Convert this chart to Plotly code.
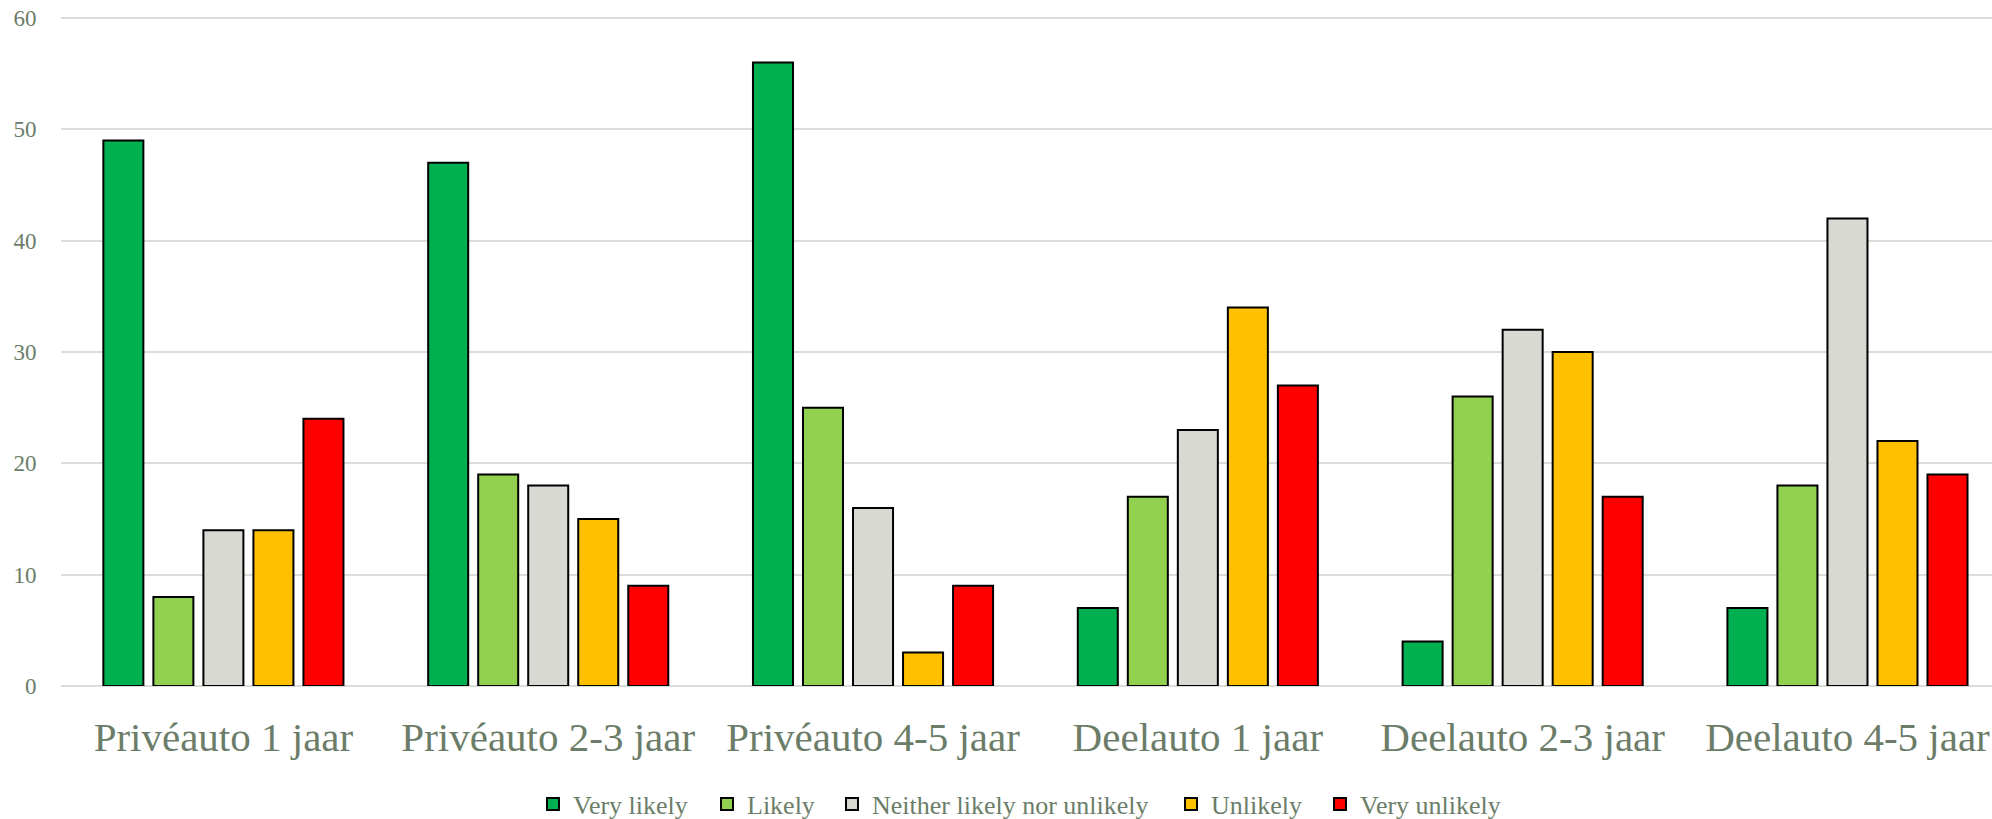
import plotly.graph_objects as go

categories = ["Privéauto 1 jaar", "Privéauto 2-3 jaar", "Privéauto 4-5 jaar",
              "Deelauto 1 jaar", "Deelauto 2-3 jaar", "Deelauto 4-5 jaar"]
series_names = ["Very likely", "Likely", "Neither likely nor unlikely", "Unlikely", "Very unlikely"]
very_likely = [49, 47, 56, 7, 4, 7]
likely = [8, 19, 25, 17, 26, 18]
neither = [14, 18, 16, 23, 32, 42]
unlikely = [14, 15, 3, 34, 30, 22]
very_unlikely = [24, 9, 9, 27, 17, 19]
colors = ["#00B050", "#92D050", "#D9D9D4", "#FFC000", "#FF0000"]
y_ticks = [0, 10, 20, 30, 40, 50, 60]

series_values = [very_likely, likely, neither, unlikely, very_unlikely]
text_color = "#6B7D68"
font_family = "Liberation Serif, Palatino Linotype, serif"

W, H = 1992, 819
ml, mr, mt, mb = 61, 0, 0, 133
plot_w = W - ml - mr
plot_h = H - mt - mb

# left edges (px) of each legend entry, so entries sit spaced like the original
legend_left_px = [545, 719, 844, 1183, 1332]
legend_ids = ["legend", "legend2", "legend3", "legend4", "legend5"]

fig = go.Figure()
for name, vals, col, lid in zip(series_names, series_values, colors, legend_ids):
    fig.add_trace(go.Bar(
        name=name, x=list(range(len(categories))), y=vals,
        marker=dict(color=col, line=dict(color="#000000", width=2)),
        legend=lid,
    ))

legend_y = -118 / plot_h
layout_legends = {}
for lid, px in zip(legend_ids, legend_left_px):
    layout_legends[lid] = dict(
        orientation="h", x=(px - 12 - ml) / plot_w, xanchor="left",
        y=legend_y, yanchor="middle",
        font=dict(size=26, color=text_color, family=font_family),
        bgcolor="rgba(0,0,0,0)", itemwidth=30,
    )

fig.update_layout(
    width=W, height=H,
    margin=dict(l=ml, r=mr, t=mt, b=mb, autoexpand=False),
    barmode="group", bargap=0.23, bargroupgap=0.2,
    plot_bgcolor="white", paper_bgcolor="white",
    font=dict(family=font_family, color=text_color),
    showlegend=True,
    **layout_legends,
)
fig.update_xaxes(
    tickmode="array", tickvals=list(range(len(categories))), ticktext=categories,
    range=[-0.5, 5.445], showgrid=False, zeroline=False, showline=False,
    ticks="outside", ticklen=15, tickcolor="rgba(0,0,0,0)", automargin=False,
    tickfont=dict(size=41, color=text_color, family=font_family),
)
fig.update_yaxes(
    range=[0, 61.62], tickmode="array", tickvals=y_ticks,
    showgrid=True, gridcolor="#D9DED9", gridwidth=2,
    zeroline=True, zerolinecolor="#D9DED9", zerolinewidth=2,
    showline=False, ticks="outside", ticklen=19, tickcolor="rgba(0,0,0,0)", automargin=False,
    ticklabeloverflow="allow",
    tickfont=dict(size=23, color=text_color, family=font_family),
)
fig.write_html("out.html", config={"displayModeBar": False},
               post_script="document.body.style.margin='0';document.body.style.overflow='hidden';")
